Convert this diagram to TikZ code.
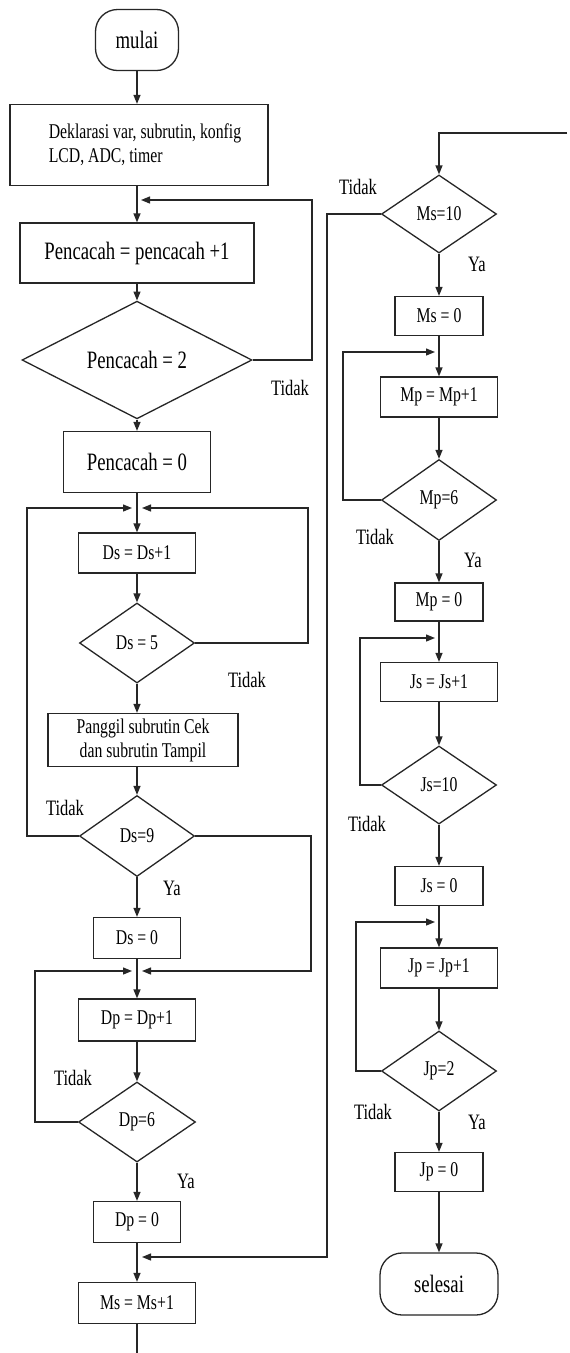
\documentclass[tikz,border=0pt]{standalone}
\usepackage{fontspec}
\setmainfont{Liberation Serif}
\newfontfamily\cf[FakeStretch=0.75]{Liberation Serif}
\usetikzlibrary{shapes.geometric,arrows.meta}
\tikzset{
  base/.style={draw=black!85, line width=1.3pt, font=\cf\fontsize{21}{24}\selectfont, inner sep=1pt, align=center},
  proc/.style={base, rectangle},
  bigproc/.style={base, rectangle, font=\cf\fontsize{25}{28}\selectfont},
  term/.style={base, rectangle, rounded corners=22pt, font=\cf\fontsize{25}{28}\selectfont},
  dec/.style={base, diamond, inner sep=0pt},
  lbl/.style={font=\cf\fontsize{22}{24}\selectfont, inner sep=0pt},
  conn/.style={draw=black!85, line width=1.3pt},
  arr/.style={conn, -{Triangle[length=9pt,width=7pt]}},
}
\begin{document}
\begin{tikzpicture}[x=1pt,y=-1pt]
\useasboundingbox[fill=white] (0,0) rectangle (570,1353);
% left column
\node[term, minimum width=83, minimum height=61] (mulai) at (137,40) {mulai};
\node[proc, minimum width=258, minimum height=81, align=left] (dekl) at (139,145) {\hspace*{12pt}Deklarasi var, subrutin, konfig\\\hspace*{12pt}LCD, ADC, timer};
\node[bigproc, minimum width=234, minimum height=60] (p1) at (137,253) {Pencacah = pencacah +1};
\node[dec, font=\cf\fontsize{25}{28}\selectfont, minimum width=230, minimum height=79] (d1) at (137,360) {Pencacah = 2};
\node[bigproc, minimum width=147, minimum height=61] (p0) at (137,462) {Pencacah = 0};
\node[proc, minimum width=117, minimum height=40] (ds1) at (137,553) {Ds = Ds+1};
\node[dec, minimum width=115, minimum height=80] (d2) at (137,643) {Ds = 5};
\node[proc, minimum width=190, minimum height=53] (pg) at (143,740) {Panggil subrutin Cek\\dan subrutin Tampil};
\node[dec, minimum width=115, minimum height=81] (d3) at (137,836) {Ds=9};
\node[proc, minimum width=87, minimum height=41] (ds0) at (137,938) {Ds = 0};
\node[proc, minimum width=117, minimum height=42] (dp1) at (137,1020) {Dp = Dp+1};
\node[dec, minimum width=117, minimum height=80] (d4) at (137,1122) {Dp=6};
\node[proc, minimum width=87, minimum height=41] (dp0) at (137,1222) {Dp = 0};
\node[proc, minimum width=117, minimum height=41] (ms1) at (137,1303) {Ms = Ms+1};
\coordinate (m0) at (137,200);
\coordinate (m1) at (137,508);
\coordinate (m2) at (137,971);
\coordinate (m3) at (137,1257);
\coordinate (bot) at (137,1353);
% right column
\coordinate (top) at (567,133);
\node[dec, minimum width=115, minimum height=78] (d5) at (439,214) {Ms=10};
\node[proc, minimum width=88, minimum height=39] (ms0) at (439,316) {Ms = 0};
\node[proc, minimum width=117, minimum height=40] (mp1) at (439,397) {Mp = Mp+1};
\node[dec, minimum width=115, minimum height=81] (d6) at (439,500) {Mp=6};
\node[proc, minimum width=88, minimum height=38] (mp0) at (439,602) {Mp = 0};
\node[proc, minimum width=117, minimum height=39] (js1) at (439,682) {Js = Js+1};
\node[dec, minimum width=115, minimum height=78] (d7) at (439,785) {Js=10};
\node[proc, minimum width=88, minimum height=39] (js0) at (439,886) {Js = 0};
\node[proc, minimum width=117, minimum height=40] (jp1) at (439,968) {Jp = Jp+1};
\node[dec, minimum width=115, minimum height=80] (d8) at (439,1071) {Jp=2};
\node[proc, minimum width=88, minimum height=39] (jp0) at (439,1172) {Jp = 0};
\node[term, minimum width=118, minimum height=62] (sel) at (439,1284) {selesai};
\coordinate (m4) at (439,352);
\coordinate (m5) at (439,638);
\coordinate (m6) at (439,922);
% main flow left
\draw[arr] (mulai) -- (mulai |- dekl.north);
\draw[arr] (mulai |- dekl.south) -- (p1);
\draw[arr] (p1) -- (d1);
\draw[arr] (d1) -- (p0);
\draw[arr] (p0) -- (ds1);
\draw[arr] (ds1) -- (d2);
\draw[arr] (d2) -- (d2 |- pg.north);
\draw[arr] (d2 |- pg.south) -- (d3);
\draw[arr] (d3) -- (ds0);
\draw[arr] (ds0) -- (dp1);
\draw[arr] (dp1) -- (d4);
\draw[arr] (d4) -- (dp0);
\draw[arr] (dp0) -- (ms1);
\draw[conn] (ms1) -- (bot);
% loops left
\draw[arr] (d1.east) -| (312,200) -- ([xshift=4pt]m0);
\draw[arr] (d2.east) -| (308,508) -- ([xshift=5pt]m1);
\draw[arr] (d3.west) -| (27,508) -- ([xshift=-5pt]m1);
\draw[arr] (d3.east) -| (311,971) -- ([xshift=5pt]m2);
\draw[arr] (d4.west) -| (35,971) -- ([xshift=-5pt]m2);
\draw[arr] (d5.west) -| (327,1257) -- ([xshift=5pt]m3);
% right flow
\draw[arr] (top) -| (d5.north);
\draw[arr] (d5) -- (ms0);
\draw[arr] (ms0) -- (mp1);
\draw[arr] (mp1) -- (d6);
\draw[arr] (d6) -- (mp0);
\draw[arr] (mp0) -- (js1);
\draw[arr] (js1) -- (d7);
\draw[arr] (d7) -- (js0);
\draw[arr] (js0) -- (jp1);
\draw[arr] (jp1) -- (d8);
\draw[arr] (d8) -- (jp0);
\draw[arr] (jp0) -- (sel);
\draw[arr] (d6.west) -| (343,352) -- ([xshift=-4pt]m4);
\draw[arr] (d7.west) -| (360,638) -- ([xshift=-4pt]m5);
\draw[arr] (d8.west) -| (356,922) -- ([xshift=-4pt]m6);
% labels
\node[lbl] (t1) at (290,388) {Tidak};
\node[lbl] (t2) at (247,680) {Tidak};
\node[lbl] (t3) at (65,808) {Tidak};
\node[lbl] (y3) at (172,888) {Ya};
\node[lbl] (t4) at (73,1078) {Tidak};
\node[lbl] (y4) at (186,1181) {Ya};
\node[lbl] (t5) at (358,187) {Tidak};
\node[lbl] (y5) at (477,264) {Ya};
\node[lbl] (t6) at (375,537) {Tidak};
\node[lbl] (y6) at (473,560) {Ya};
\node[lbl] (t7) at (367,824) {Tidak};
\node[lbl] (t8) at (373,1112) {Tidak};
\node[lbl] (y8) at (477,1122) {Ya};
\end{tikzpicture}
\end{document}
